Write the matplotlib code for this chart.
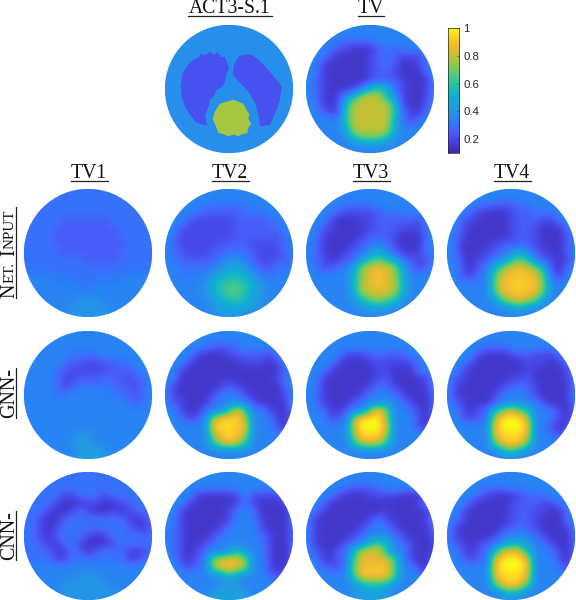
"""EIT reconstruction comparison: ground truth, TV and network outputs on a disc."""
import matplotlib
matplotlib.use("Agg")
import matplotlib.pyplot as plt
import numpy as np
from matplotlib.colors import LinearSegmentedColormap, Normalize
from matplotlib.patches import Circle, Polygon

W, H = 576, 600
VMIN, VMAX = 0.1, 1.0
CB_TICKS = [0.2, 0.4, 0.6, 0.8, 1.0]
CB_LABELS = ["0.2", "0.4", "0.6", "0.8", "1"]

PARULA = [
    (0.00, (0.2422, 0.1504, 0.6603)), (0.10, (0.2780, 0.2700, 0.9000)),
    (0.18, (0.2740, 0.3880, 0.9880)), (0.25, (0.1700, 0.4900, 0.9800)),
    (0.35, (0.1400, 0.6000, 0.8900)), (0.45, (0.0500, 0.6900, 0.8300)),
    (0.55, (0.1500, 0.7600, 0.6700)), (0.65, (0.4000, 0.8000, 0.4200)),
    (0.75, (0.6900, 0.7700, 0.2200)), (0.85, (0.9300, 0.7300, 0.2000)),
    (0.92, (0.9900, 0.8000, 0.1600)), (1.00, (0.9769, 0.9839, 0.0805)),
]

# ground truth: conductivities and outlines (3x crop pixels, disc centre 207,268)
TRUTH_BG, TRUTH_LUNG, TRUTH_HEART = 0.38, 0.22, 0.76
LUNG_L = [(100, 180), (118, 172), (122, 162), (135, 168), (150, 155), (160, 165), (172, 158), (185, 172), (195, 172),
          (207, 208), (198, 225), (195, 248), (185, 262), (170, 270), (160, 292), (150, 300), (145, 322), (135, 350),
          (142, 378), (120, 372), (108, 368), (90, 345), (75, 320), (65, 290), (62, 260), (68, 220), (85, 195)]
LUNG_R = [(222, 195), (235, 170), (255, 165), (275, 165), (295, 180), (320, 205), (345, 235), (365, 260), (360, 300),
          (352, 325), (345, 340), (330, 375), (300, 380), (295, 345), (285, 310), (265, 275), (240, 250), (218, 225)]
HEART = [(180, 312), (220, 300), (250, 312), (262, 335), (268, 342), (265, 358), (274, 372), (264, 385), (262, 400),
         (248, 403), (235, 410), (222, 404), (205, 410), (192, 404), (175, 400), (168, 380), (158, 358), (165, 335)]

# reconstructions, one letter per grid node: a=0.05, b=0.10 ... t=1.00
G17 = "ggggggggggggggggg"
TV_REF = [G17, G17, "ggggfffffgggggggg", "gggfedcccefffgggg", "gggdccccdefedddfg", "ggdcccccdefeccdfg",
          "ggdcccccdeedcccfg", "gfdcccccdeeedcccg", "gfdcccdfklkfdccdg", "gfdcdhkpppkhdccdg", "ggdcdkpppppkdcceg",
          "ggfddlppppplfdcfg", "ggggglpppppjfdfgg", "gggggjpppppjggggg", "ggggghlnnnlhggggg",
          "ggggggghhhggggggg", G17]
NET_TV1 = ["fffffffffffffffff", "fffffffffffffffff", "fffffffffffffffff", "fffffffffffffffff", "fffffeeeeeeffffff",
           "ffffeeeeeeeefffff", "ffffeeeeeeeeeffff", "ffffeeeeeeeeeffff", "fffffeeeeeeeeffff", "ffffffffeeeefffff",
           "fffffffffffffffff", "ggggfffffffffgggg", "gggggggffgggggggg", G17, "ggggggghhhggggggg",
           "gggggghhhhhgggggg", "gggggghhhhhgggggg"]
NET_TV2 = [G17, G17, "ggggggfffffgggggg", "ggggfeeeeefffgggg", "gggedddddeeeeffgg", "ggeddddddeeeeefgg",
           "gfdddddddeeeeedfg", "gfdddddeeeedddefg", "gfedddeefffedddeg", "ggeeeeeghhgeddeeg", "ggffffghijhgeeffg",
           "gggfggijkkjhgfggg", "ggggghjlmmljhgggg", "ggggghjlmmlihgggg", "gggggghjkljihgggg", "gggggghiiiihggggg",
           "ggggggghhhggggggg"]
NET_TV3 = [G17, G17, "gggggffffgggggggg", "ggggeddddefffgggg", "gggdcccddeeeeedgg", "ggedccccdeeedddfg",
           "ggdccccdeeedcccfg", "gfdcccdefgfdcccfg", "gfdccdefhjhedcdfg", "gfecdefjlnljfeddg", "ggdefgjoqrqojfdfg",
           "ggggggjoqrqojgggg", "ggggggkpqrqpkgggg", "ggggggjopqpojgggg", "gggggghkmnmkhgggg", "ggggggghhihgggggg", G17]
NET_TV4 = [G17, G17, "ggggffeeeffgggggg", "gggedcccdeefffggg", "ggedccccdeeeddfgg", "ggdcccccdeedcccfg",
           "gfdcccccdeedccceg", "gfccccdeeeedccceg", "gfcccdefhjhedcceg", "ggdcdeghlnlgedcdg", "ggdcegkoqrqokdcfg",
           "ggedfgmqrrrqmfdgg", "ggggggnrrsrrngggg", "ggggggmqrrrqmgggg", "gggggghmoqomhgggg", "gggggggghiggggggg", G17]
GNN_TV1 = [G17, G17, G17, "ggggggffffggggggg", "gggggfeeddeeffggg", "ggggfedddddeeefgg", "ggggfddeeefeedefg",
           "ggggfdefffffeedfg", "ggggffgggggffeefg", "gggggggggggggfefg", G17, G17, G17, "ggggggghhgggggggg",
           "gggggghihgggggggg", "ggggggghiihgggggg", "gggggghiiihgggggg"]
GNN_TV2 = [G17, G17, "ggggggeeefggggggg", "ggggdcccdeeeedggg", "gggdccccccdddcdgg", "ggdccccccccccccfg",
           "ggccccccccccccdfg", "gdcccccdedcccccfg", "gdccccdfgfdccccdg", "gedcccfggggdcccdh", "ggdccfgglrlggdccf",
           "ggfdegosssoggfdcf", "ggggggrssrrgggdcf", "ggggggorsroggggfg", "gggggglprplgggggg", G17, G17]
GNN_TV3 = [G17, G17, G17, "gggggdddefeeegggg", "ggggdcccddddddfgg", "gggdcccccddcccfgg", "ggdccccccdeccccdg",
           "ggdcccccdfedcccdg", "ggdccccdfggfdcccf", "gfdcccefgghgfdccf", "ggfdceggnsnggfdce", "gggdefotttogggdcf",
           "ggggggqtttqgggdcf", "ggggggosssogggggg", "gggggglpqplgggggg", G17, G17]
GNN_TV4 = [G17, G17, "gggggfffggggggggg", "ggggdcccdeedddfgg", "gggdccccccdddcdfg", "ggdcccccccdccccdg",
           "gedcccccddeccccdg", "gdcccccdefedccccg", "gdccccdfggfdcccdg", "gedcccegggggdcccf", "ggdcefknqnkggfdcf",
           "ggedefptttpggfdcf", "ggggggrtttrggdcdg", "ggggggqsssqggfdgg", "ggggggnrsrngggggg", "gggggggjljggggggg", G17]
CNN_TV1 = ["fffffffffffffffff", "fffffffffffffffff", "fffffffffffffffff", "fffffddfffdffffff", "ffffdcccddccdefff",
           "fffdccdfdccdcdeff", "ffdccefffffffdcdf", "ffdcdffffffffedcf", "ffdcefffdcdffffef", "ffedcffdcccdfffff",
           "fffedcfecefffdcdf", "ffffddfffffffddff", G17, "ggggggghhhggggggg", "ggggghhhhhhgggggg",
           "ggggghhhhhhhggggg", "gggghhhhhhhhggggg"]
CNN_TV2 = [G17, G17, G17, "ggggdccccdgddddgg", "gggdcccccdfdcccdg", "ggdcccccdfgfccccg", "ggdcccccdggfdcccf",
           "gfdccccdfgggdcccf", "gfdcccdfggggfdccf", "gfdccdfgggggfdccf", "gfdcdfgghlhggdcce", "ggdcefoqrqoggdccf",
           "ggfdfgnqrqnggdccg", "ggggggghkhgggfdfg", "ggggggghhhggggggg", "gggggghiiihgggggg", "ggggghiiiiigggggg"]
CNN_TV3 = [G17, G17, "gggggfeeefggggggg", "ggggdcccddddcccdg", "ggfcccccccccccdgg", "gfdcccccccdcccccf",
           "gdccccccdfdccccdg", "gdcccccdfgfdccccf", "gdccccdfgggfdccce", "gdcccefgkmkgfdccd", "gedcefkqqqkggdccd",
           "ggdcefmqqqqmgdccf", "ggfedgnrrrrmggdcf", "ggggggmrrrrmgggdg", "gggggghkllkhggggg", "gggggghhiihgggggg",
           "ggggghiiiiihggggg"]
CNN_TV4 = [G17, G17, "gggggfffggggggggg", "ggggedcccdeffgggg", "gggdccccdeeeddfgg", "ggdcccccdeeddccfg",
           "ggdcccccdeedcccfg", "gdcccccdefedcccdg", "gdccccdfgggfdcccf", "gedcdefhjjhgfdccf", "ggdcefkqrqkggfdcf",
           "ggfdefqtttqgggdcf", "ggggggrtttrgggfdg", "ggggggqsssqgggggg", "ggggggnrsrngggggg", "gggggggjljggggggg", G17]

PANELS = [
    (TV_REF, 370, 89),
    (NET_TV1, 88, 253), (NET_TV2, 229, 253), (NET_TV3, 370, 253), (NET_TV4, 511, 253),
    (GNN_TV1, 88, 395), (GNN_TV2, 229, 395), (GNN_TV3, 370, 395), (GNN_TV4, 511, 395),
    (CNN_TV1, 88, 536), (CNN_TV2, 229, 536), (CNN_TV3, 370, 536), (CNN_TV4, 511, 536),
]
# title, centre x, baseline y, underline x0, x1, underline y
TITLES = [
    ("ACT3-S.1", 230, 13.4, 188, 272, 15.5), ("TV", 371, 13.4, 358, 384, 15.5),
    ("TV1", 89, 178, 71, 108, 181), ("TV2", 230, 178, 212, 249, 181),
    ("TV3", 371, 178, 353, 390, 181), ("TV4", 512, 178, 494, 531, 181),
]
# piece of rotated row label, start y, font size
ROW_TEXT = [
    ("N", 298, 14.4), ("ET.", 283.5, 10.8), ("I", 256, 14.4), ("NPUT", 249, 10.8),
    ("GNN-", 418, 14.4), ("CNN-", 560, 14.4),
]
ROW_LINES = [(207, 298), (368, 418), (511, 560)]

cmap = LinearSegmentedColormap.from_list("parula", PARULA)
norm = Normalize(VMIN, VMAX)
SERIF = ["Liberation Serif", "DejaVu Serif"]
R = 64.2


def px_axes(fig, x0, y0, x1, y1):
    """Axes from pixel box, y measured from the top of the picture."""
    return fig.add_axes([x0 / W, 1 - y1 / H, (x1 - x0) / W, (y1 - y0) / H])


def disc_axes(fig, cx, cy):
    ax = px_axes(fig, cx - R, cy - R, cx + R, cy + R)
    ax.set_xlim(-1, 1)
    ax.set_ylim(-1, 1)
    ax.axis("off")
    return ax


def decode(rows):
    return np.array([[(ord(c) - 96) * 0.05 for c in r] for r in rows])


fig = plt.figure(figsize=(W / 100, H / 100), dpi=100)

# ground truth
ax = disc_axes(fig, 229, 89)
disc = Circle((0, 0), 1, fc=cmap(norm(TRUTH_BG)), ec="none")
ax.add_patch(disc)
for outline, val in [(LUNG_L, TRUTH_LUNG), (LUNG_R, TRUTH_LUNG), (HEART, TRUTH_HEART)]:
    pts = [((x - 207) / 192.5, (268 - y) / 192.5) for x, y in outline]
    ax.add_patch(Polygon(pts, closed=True, fc=cmap(norm(val)), ec="none"))

# reconstructions
for rows, cx, cy in PANELS:
    ax = disc_axes(fig, cx, cy)
    pad = 1 / 16
    im = ax.imshow(decode(rows), extent=(-1 - pad, 1 + pad, -1 - pad, 1 + pad), cmap=cmap, norm=norm,
                   interpolation="bicubic", aspect="auto")
    im.set_clip_path(Circle((0, 0), 1, transform=ax.transData))

# colorbar
cax = px_axes(fig, 447.5, 28, 459, 153)
cax.imshow(np.linspace(VMAX, VMIN, 256)[:, None], extent=(0, 1, VMIN, VMAX), cmap=cmap, norm=norm, aspect="auto")
cax.set_xticks([])
cax.yaxis.tick_right()
cax.set_yticks(CB_TICKS)
cax.set_yticklabels(CB_LABELS, fontsize=8.2, family=["Liberation Sans", "DejaVu Sans"], color="#262626")
cax.tick_params(axis="y", length=1.5, width=0.4, direction="in", pad=3, color="#262626")
for s in cax.spines.values():
    s.set_linewidth(0.5)
    s.set_color("#262626")

# titles and underlines
for label, cx, base, x0, x1, uy in TITLES:
    fig.text(cx / W, 1 - base / H, label, family=SERIF, fontsize=14.2, ha="center", va="baseline", color="#111111")
    fig.add_artist(plt.Line2D([x0 / W, x1 / W], [1 - uy / H] * 2, color="#222222", lw=0.9))

for label, y, size in ROW_TEXT:
    fig.text(14 / W, 1 - y / H, label, family=SERIF, fontsize=size, rotation=90, rotation_mode="anchor",
             ha="left", va="baseline", color="#111111")
for y0, y1 in ROW_LINES:
    fig.add_artist(plt.Line2D([16.3 / W] * 2, [1 - y0 / H, 1 - y1 / H], color="#222222", lw=0.9))

fig.savefig("out.png", dpi=100)
